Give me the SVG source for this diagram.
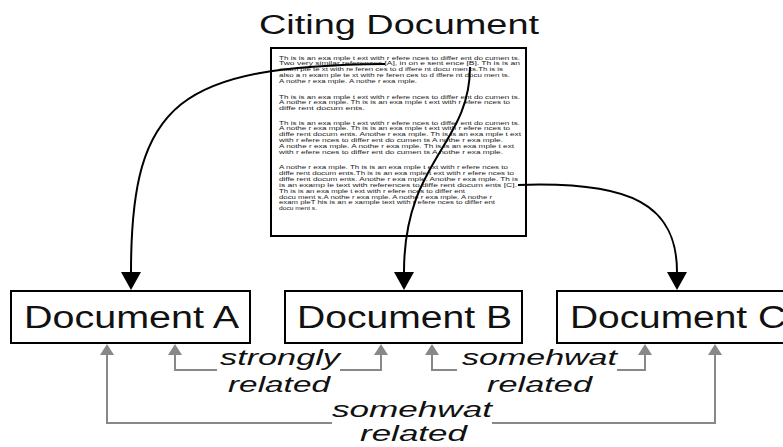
<svg xmlns="http://www.w3.org/2000/svg" width="783" height="447" viewBox="0 0 783 447">
<style>
  .box{fill:#fff;stroke:#000;stroke-width:2}
  .lbl{font-family:"Liberation Sans",Arial,sans-serif;font-size:31px;fill:#111}
  .title{font-family:"Liberation Sans",Arial,sans-serif;font-size:27px;fill:#111}
  .rel{font-family:"Liberation Sans",Arial,sans-serif;font-size:22px;font-style:italic;fill:#111}
  .body{font-family:"Liberation Sans",Arial,sans-serif;font-size:6px;fill:#222}
  .cite{fill:none;stroke:#000;stroke-width:2}
  .gray{fill:none;stroke:#888;stroke-width:2}
</style>
<defs>
  <marker id="blk" markerUnits="userSpaceOnUse" markerWidth="18" markerHeight="20" refX="0" refY="10" orient="auto">
    <path d="M0,0 L18,10 L0,20 z" fill="#000"/>
  </marker>
  <marker id="gry" markerUnits="userSpaceOnUse" markerWidth="11" markerHeight="14" refX="0" refY="7" orient="auto">
    <path d="M0,0 L11,7 L0,14 z" fill="#888"/>
  </marker>
</defs>
<rect width="783" height="447" fill="#fff"/>

<g id="citing">
  <text class="title" x="259" y="34" textLength="280" lengthAdjust="spacingAndGlyphs">Citing Document</text>
  <rect class="box" x="271" y="48" width="255" height="188"/>
  <g class="body">
    <text x="279" y="59.5" textLength="241" lengthAdjust="spacingAndGlyphs">Th is is an exa mple t ext with r efere nces to  differ ent do cumen ts.</text>
    <text x="279" y="65.3" textLength="241" lengthAdjust="spacingAndGlyphs">Two  very  similar  references [A], in on e sent ence [B]. Th is is an</text>
    <text x="279" y="71.1" textLength="224" lengthAdjust="spacingAndGlyphs">exam ple te xt with re feren ces to d iffere nt docu men ts.Th is is</text>
    <text x="279" y="76.9" textLength="231" lengthAdjust="spacingAndGlyphs">also a n exam ple te xt with re feren ces to d iffere nt docu men ts.</text>
    <text x="279" y="82.7" textLength="138" lengthAdjust="spacingAndGlyphs">A nothe r exa mple.  A nothe r exa mple.</text>
    <text x="279" y="98.5" textLength="241" lengthAdjust="spacingAndGlyphs">Th is is an exa mple t ext with r efere nces to  differ ent do cumen ts.</text>
    <text x="279" y="104.3" textLength="231" lengthAdjust="spacingAndGlyphs">A nothe r exa mple.  Th is is an exa mple t ext with r efere nces to</text>
    <text x="279" y="110.1" textLength="86" lengthAdjust="spacingAndGlyphs">diffe rent  docum ents.</text>
    <text x="279" y="124.5" textLength="241" lengthAdjust="spacingAndGlyphs">Th is is an exa mple t ext with r efere nces to  differ ent do cumen ts.</text>
    <text x="279" y="130.3" textLength="231" lengthAdjust="spacingAndGlyphs">A nothe r exa mple.  Th is is an exa mple t ext with r efere nces to</text>
    <text x="279" y="136.1" textLength="242" lengthAdjust="spacingAndGlyphs">diffe rent  docum ents.  Anothe r exa mple.  Th is is an exa mple t ext</text>
    <text x="279" y="141.9" textLength="224" lengthAdjust="spacingAndGlyphs">with r efere nces to  differ ent do cumen ts A nothe r exa mple.</text>
    <text x="279" y="147.7" textLength="235" lengthAdjust="spacingAndGlyphs">A nothe r exa mple.  A nothe r exa mple.  Th is is an exa mple t ext</text>
    <text x="279" y="153.5" textLength="224" lengthAdjust="spacingAndGlyphs">with r efere nces to  differ ent do cumen ts A nothe r exa mple.</text>
    <text x="279" y="169" textLength="229" lengthAdjust="spacingAndGlyphs">A nothe r exa mple.  Th is is an exa mple t ext with r efere nces to</text>
    <text x="279" y="174.9" textLength="235" lengthAdjust="spacingAndGlyphs">diffe rent  docum ents.Th is is an exa mple t ext with r efere nces to</text>
    <text x="279" y="180.8" textLength="239" lengthAdjust="spacingAndGlyphs">diffe rent  docum ents.  Anothe r exa mple.  Anothe r exa mple.  Th is</text>
    <text x="279" y="186.7" textLength="238" lengthAdjust="spacingAndGlyphs">is an  examp le  text with  references  to diffe rent  docum ents [C].</text>
    <text x="279" y="192.6" textLength="186" lengthAdjust="spacingAndGlyphs">Th is is an exa mple t ext with r efere nces to  differ ent</text>
    <text x="279" y="198.5" textLength="213" lengthAdjust="spacingAndGlyphs">docu ment s.A nothe r exa mple.  A nothe r exa mple.  A nothe r</text>
    <text x="279" y="204.4" textLength="216" lengthAdjust="spacingAndGlyphs">exam pleT his is an e xample  text with r efere nces to  differ ent</text>
    <text x="279" y="210.3" textLength="38" lengthAdjust="spacingAndGlyphs">docu ment s.</text>
  </g>
</g>

<g id="docA">
  <rect class="box" x="11" y="291" width="239" height="52"/>
  <text class="lbl" x="24" y="328" textLength="215" lengthAdjust="spacingAndGlyphs">Document A</text>
</g>
<g id="docB">
  <rect class="box" x="285" y="291" width="237" height="52"/>
  <text class="lbl" x="297" y="328" textLength="215" lengthAdjust="spacingAndGlyphs">Document B</text>
</g>
<g id="docC">
  <rect class="box" x="557" y="291" width="240" height="52"/>
  <text class="lbl" x="570" y="328" textLength="216" lengthAdjust="spacingAndGlyphs">Document C</text>
</g>

<g id="connectors">
  <path class="cite" d="M385,64 C180,66 131,100 131,272" marker-end="url(#blk)"/>
  <path class="cite" d="M470,67 C470,145 404,160 404,272" marker-end="url(#blk)"/>
  <path class="cite" d="M518,185 C632,181 677,205 677,272" marker-end="url(#blk)"/>

  <path class="gray" d="M217,370 H175 V355" marker-end="url(#gry)"/>
  <path class="gray" d="M340,370 H381 V355" marker-end="url(#gry)"/>
  <path class="gray" d="M457,370 H432 V355" marker-end="url(#gry)"/>
  <path class="gray" d="M617,370 H645 V355" marker-end="url(#gry)"/>
  <path class="gray" d="M332,423 H107 V355" marker-end="url(#gry)"/>
  <path class="gray" d="M492,423 H715 V355" marker-end="url(#gry)"/>

  <text class="rel" x="220" y="365" textLength="120" lengthAdjust="spacingAndGlyphs">strongly</text>
  <text class="rel" x="228" y="392" textLength="102" lengthAdjust="spacingAndGlyphs">related</text>
  <text class="rel" x="462" y="365" textLength="155" lengthAdjust="spacingAndGlyphs">somehwat</text>
  <text class="rel" x="487" y="392" textLength="105" lengthAdjust="spacingAndGlyphs">related</text>
  <text class="rel" x="332" y="417" textLength="160" lengthAdjust="spacingAndGlyphs">somehwat</text>
  <text class="rel" x="360" y="441" textLength="107" lengthAdjust="spacingAndGlyphs">related</text>
</g>
</svg>
